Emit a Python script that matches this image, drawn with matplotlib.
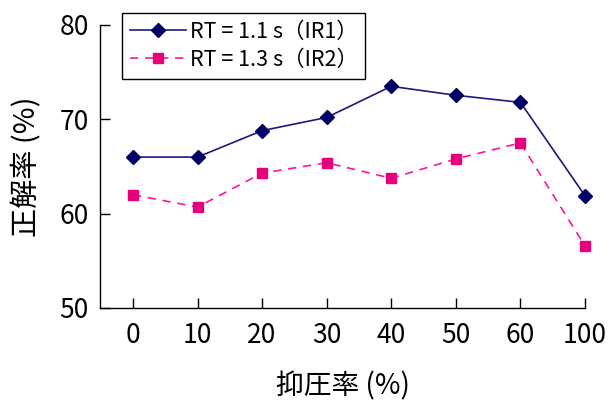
import matplotlib
matplotlib.use("Agg")
import matplotlib.pyplot as plt

plt.rcParams['font.family'] = ['Noto Sans CJK JP', 'DejaVu Sans']

categories = ["0", "10", "20", "30", "40", "50", "60", "100"]
ir1 = [66.0, 66.0, 68.8, 70.2, 73.5, 72.55, 71.8, 61.9]
ir2 = [62.0, 60.7, 64.3, 65.4, 63.75, 65.8, 67.5, 56.6]
yticks = [50, 60, 70, 80]

fig = plt.figure(figsize=(6.15, 4.08), dpi=100)
ax = fig.add_axes([100/615, (408-308)/408, (585-100)/615, (308-25)/408])

x = list(range(len(categories)))
ax.plot(x, ir1, color='#1a1a80', lw=1.2, marker='D', ms=7,
        mfc='#000066', mec='#000066', label='RT = 1.1 s（IR1）', clip_on=False)
ax.plot(x, ir2, color='#ff1493', lw=1.2, ls=(0, (5, 4)), marker='s', ms=7,
        mfc='#e6007e', mec='#e6007e', label='RT = 1.3 s（IR2）', clip_on=False)

ax.set_xlim(-0.51, 7)
ax.set_ylim(50, 80)
ax.set_xticks(x)
ax.set_xticklabels(categories)
ax.set_yticks(yticks)
ax.spines['top'].set_visible(False)
ax.spines['right'].set_visible(False)
for s in ['left', 'bottom']:
    ax.spines[s].set_linewidth(1.0)
ax.tick_params(direction='in', length=7, width=1.0, labelsize=19, pad=8)
ax.tick_params(axis='x', pad=10)

ax.set_ylabel('正解率 (%)', fontsize=21, labelpad=12)
ax.set_xlabel('抑圧率 (%)', fontsize=20, labelpad=16)

leg = ax.legend(loc='upper left', bbox_to_anchor=(22/485, 1 + 12/283), fontsize=15.5,
                frameon=True, fancybox=False, edgecolor='black', framealpha=1,
                borderpad=0.35, handlelength=2.6, handletextpad=0.2, labelspacing=0.3,
                borderaxespad=0)
leg.get_frame().set_linewidth(1.0)

fig.savefig('out.png', dpi=100)
